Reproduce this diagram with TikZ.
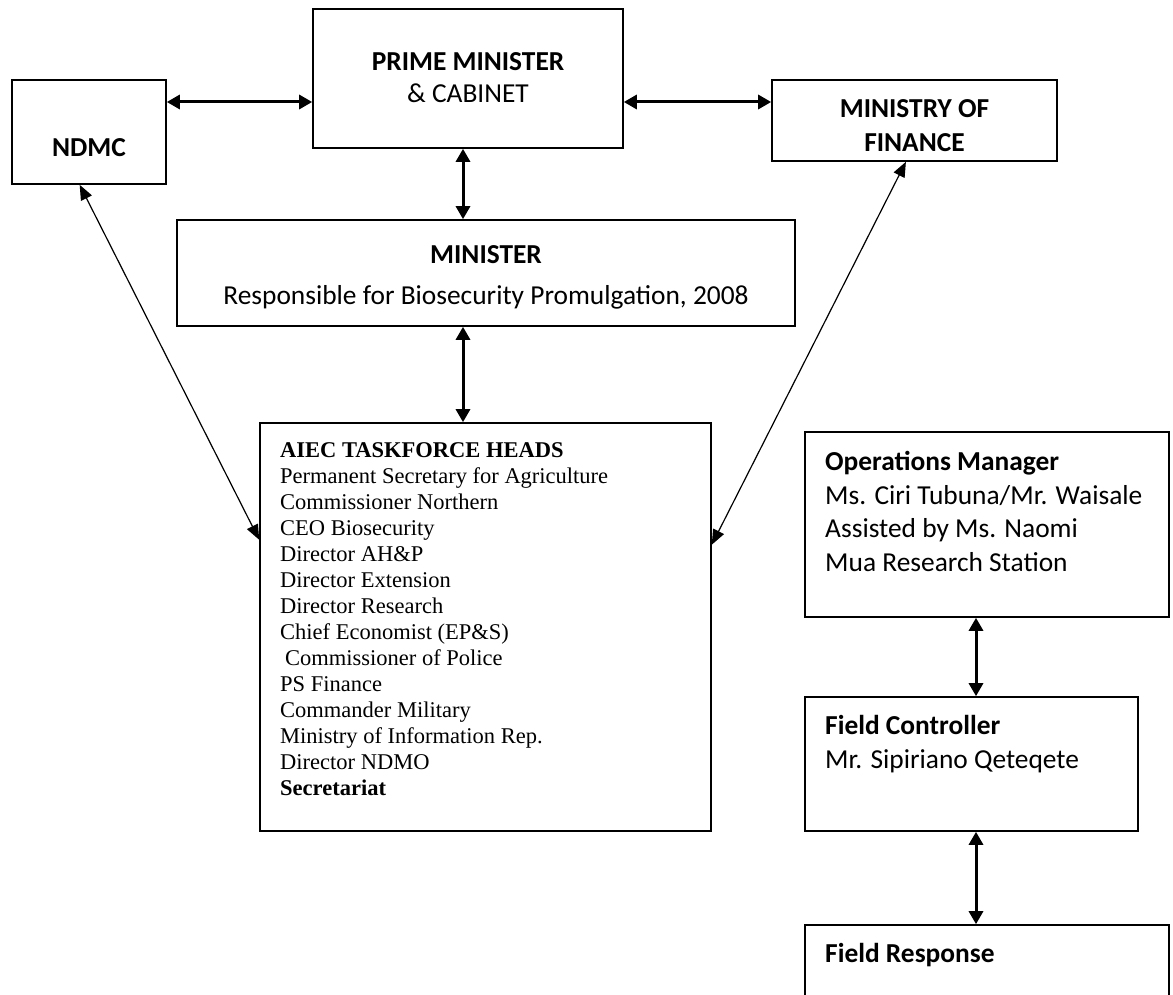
\documentclass[tikz,border=0pt]{standalone}
\usepackage{fontspec}
\setmainfont{Liberation Serif}
\newfontfamily\calfont{Carlito}
\usetikzlibrary{arrows.meta,calc}
\begin{document}
\begin{tikzpicture}[x=1pt,y=-1pt,
  box/.style={draw, line width=1.6pt, inner sep=0pt},
  cal/.style={font=\calfont\fontsize{27.4}{33}\selectfont, inner sep=0pt, anchor=base},
  calb/.style={font=\calfont\bfseries\fontsize{27.4}{33}\selectfont, inner sep=0pt, anchor=base},
  calw/.style={font=\calfont\fontsize{27.4}{33}\selectfont, inner sep=0pt, anchor=base west},
  calbw/.style={font=\calfont\bfseries\fontsize{27.4}{33}\selectfont, inner sep=0pt, anchor=base west},
  tms/.style={font=\fontsize{22.5}{26}\selectfont, inner sep=0pt, anchor=base west},
  dblthick/.style={line width=3pt, {Triangle[length=13pt,width=14pt]}-{Triangle[length=13pt,width=14pt]}},
  dblthin/.style={line width=1.2pt, {Triangle[length=15pt,width=12pt]}-{Triangle[length=15pt,width=12pt]}}]
\fill[white] (0,0) rectangle (1173,995);
\useasboundingbox (0,0) rectangle (1173,995);
\clip (0,0) rectangle (1173,995);

% boxes
\node[box, minimum width=154pt, minimum height=104pt] (ndmc) at (89,132) {};
\node[calb] (ndmct) at (89,157) {NDMC};

\node[box, minimum width=310pt, minimum height=139pt] (pm) at (468,78.5) {};
\node[calb] (pmt1) at (468,71) {PRIME MINISTER};
\node[cal] (pmt2) at (468,103) {\& CABINET};

\node[box, minimum width=285pt, minimum height=81pt] (mof) at (914.5,120.5) {};
\node[calb] (moft1) at (914.5,118) {MINISTRY OF};
\node[calb] (moft2) at (914.5,152) {FINANCE};

\node[box, minimum width=618pt, minimum height=106pt] (min) at (486,273) {};
\node[calb] (mint1) at (486,263) {MINISTER};
\node[cal] (mint2) at (486,305) {Responsible for Biosecurity Promulgation, 2008};

\node[box, minimum width=451pt, minimum height=408pt] (aiec) at (485.5,627) {};
\foreach \t [count=\i] in {{\bfseries AIEC TASKFORCE HEADS},
  {Permanent Secretary for Agriculture},
  {Commissioner Northern},
  {CEO Biosecurity},
  {Director AH\&P},
  {Director Extension},
  {Director Research},
  {Chief Economist (EP\&S)},
  {\hspace*{5pt}Commissioner of Police},
  {PS Finance},
  {Commander Military},
  {Ministry of Information Rep.},
  {Director NDMO},
  {\bfseries Secretariat}}
  {\node[tms] (aiect\i) at (280,{431+26*\i}) {\t};}

\node[box, minimum width=364pt, minimum height=185pt] (ops) at (987,524.5) {};
\node[calbw] (opst1) at (825,470) {Operations Manager};
\node[calw] (opst2) at (825,504) {Ms. Ciri Tubuna/Mr. Waisale};
\node[calw] (opst3) at (825,537) {Assisted by Ms. Naomi};
\node[calw] (opst4) at (825,571) {Mua Research Station};

\node[box, minimum width=333pt, minimum height=134pt] (fc) at (971.5,764) {};
\node[calbw] (fct1) at (825,734) {Field Controller};
\node[calw] (fct2) at (825,768) {Mr. Sipiriano Qeteqete};

\node[box, minimum width=364pt, minimum height=120pt] (fr) at (987,985) {};
\node[calbw] (frt1) at (825,962) {Field Response};

% helper coordinates
\coordinate (rowy) at (0,102);
\coordinate (axisA) at (463,0);
\coordinate (axisB) at (976,0);

% connectors
\draw[dblthick] (ndmc.east |- rowy) -- (pm.west |- rowy);
\draw[dblthick] (pm.east |- rowy) -- (mof.west |- rowy);
\draw[dblthick] (axisA |- pm.south) -- (axisA |- min.north);
\draw[dblthick] (axisA |- min.south) -- (axisA |- aiec.north);
\draw[dblthick] (axisB |- ops.south) -- (axisB |- fc.north);
\draw[dblthick] (axisB |- fc.south) -- (axisB |- fr.north);
\draw[dblthin] ($(ndmc.south west)!0.44!(ndmc.south east)$) -- ($(aiec.north west)!0.287!(aiec.south west)$);
\draw[dblthin] ($(aiec.north east)!0.299!(aiec.south east)$) -- ($(mof.south west)!0.47!(mof.south east)$);
\end{tikzpicture}
\end{document}
